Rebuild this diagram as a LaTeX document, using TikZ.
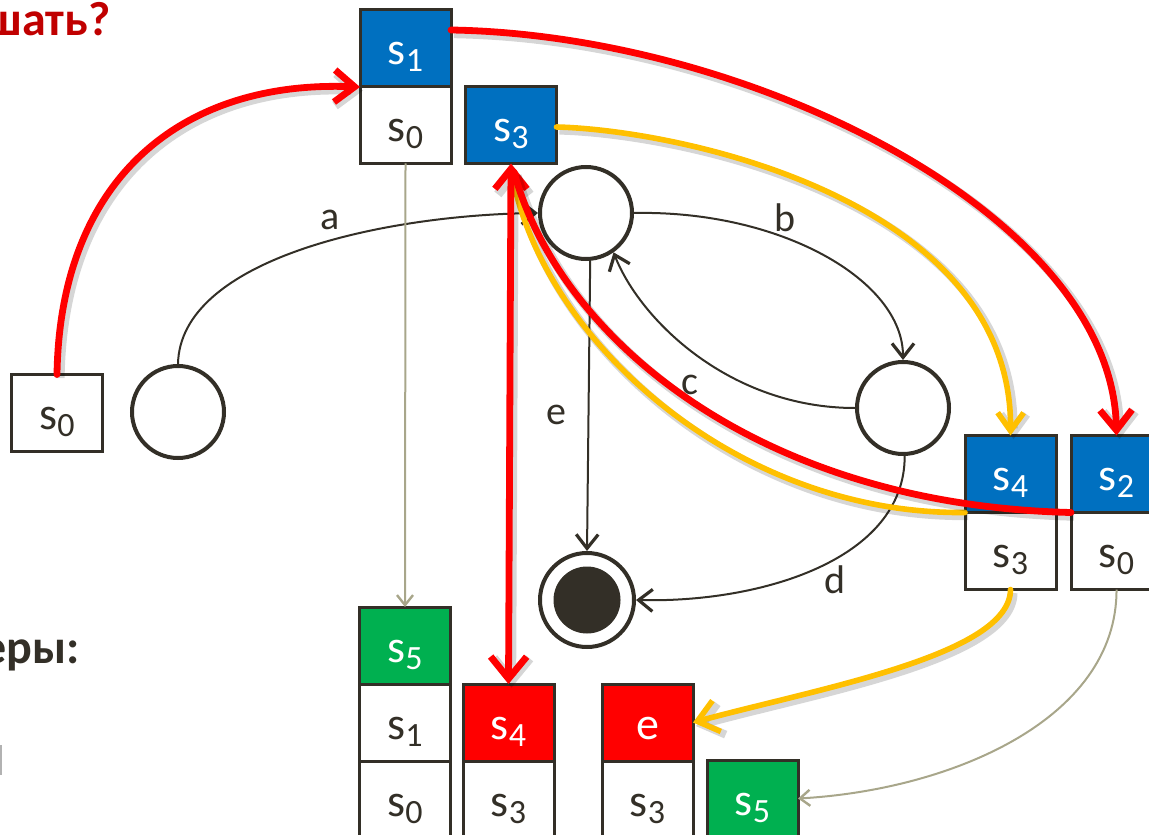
\documentclass[tikz,border=0pt]{standalone}
\usepackage{fontspec}
\setmainfont{Carlito}
\usetikzlibrary{arrows.meta}
\definecolor{ink}{HTML}{332F27}
\definecolor{cblue}{HTML}{0070C0}
\definecolor{cred}{HTML}{FF0000}
\definecolor{cgreen}{HTML}{00B050}
\definecolor{cyellow}{HTML}{FFC000}
\definecolor{olivegray}{HTML}{A8A68A}
\definecolor{titlered}{HTML}{C00000}
\newcommand\stidx[1]{\raisebox{-3.5pt}{\fontsize{17}{17}\selectfont #1}}
\begin{document}
\begin{tikzpicture}[x=0.5pt,y=-0.5pt,
  cell/.style={draw=ink, line width=1.5pt, minimum width=45.5pt, minimum height=38.5pt,
    inner sep=0pt, outer sep=0pt, text height=27.5pt, text depth=11pt,
    font=\fontsize{23}{24}\selectfont, text=ink, fill=white},
  bluecell/.style={cell, fill=cblue, text=white},
  redcell/.style={cell, fill=cred, text=white},
  greencell/.style={cell, fill=cgreen, text=white},
  state/.style={circle, draw=ink, line width=2pt, minimum size=46pt, inner sep=0pt},
  edge/.style={draw=ink, line width=1pt, -{Straight Barb[length=7pt,width=11pt,line width=1.6pt]}},
  elabel/.style={font=\fontsize{20}{22}\selectfont, text=ink},
  softshadow/.style={preaction={draw=black, opacity=0.16, line width=#1,
    transform canvas={shift={(1.5pt,-1.8pt)}}}},
  redarrow/.style={softshadow=4.6pt, draw=cred, line width=3.4pt, line cap=round},
  yellowarrow/.style={softshadow=4pt, draw=cyellow, line width=2.8pt, line cap=round},
  olivearrow/.style={draw=olivegray, line width=1pt, -{Straight Barb[length=5pt,width=8pt,line width=1.2pt]}},
  bigtip/.style={-{Straight Barb[length=10pt,width=16pt]}}
]
\useasboundingbox (0,0) rectangle (1149,834);
\clip (0,0) rectangle (1149,834);

% headings cut at the left edge
\node[anchor=base east, font=\fontsize{24}{26}\selectfont\bfseries, text=titlered, inner sep=0pt] (ttl) at (111,36) {шать?};
\node[anchor=base east, font=\fontsize{24}{26}\selectfont\bfseries, text=ink, inner sep=0pt] (ex) at (80,663) {еры:};
\fill[gray!60] (0,745) rectangle (2,775);

% automaton states
\node[state] (q0) at (178,412) {};
\node[state] (q1) at (586,213) {};
\node[state] (q2) at (903,408) {};
\node[circle, draw=ink, line width=2pt, minimum size=47pt, inner sep=0pt] (qf) at (587,600) {};
\node[circle, draw=ink, line width=1.5pt, fill=ink, minimum size=32pt, inner sep=0pt] (qfin) at (587,600) {};

% transitions
\draw[edge] (q0.north) .. controls (180,260) and (380,215) .. (q1.west);
\draw[edge] (q1.east) .. controls (780,210) and (903,280) .. (q2.north);
\draw[edge] (q2.west) .. controls (730,408) and (640,320) .. (q1.-55);
\draw[edge] (q1.-85) -- (qf.north);
\draw[edge] (q2.-88) .. controls (905,560) and (760,603) .. (qf.east);
\node[elabel] (la) at (330,220) {a};
\node[elabel] (lb) at (785,218) {b};
\node[elabel] (lc) at (690,385) {c};
\node[elabel] (le) at (556,415) {e};
\node[elabel] (ld) at (835,580) {d};

% stack snapshots
\node[cell] (p0) at (57,413) {s\stidx{0}};

\node[bluecell] (a1) at (405.5,48.5) {s\stidx{1}};
\node[cell] (a0) at (405.5,125) {s\stidx{0}};

\node[bluecell] (b3) at (511,125) {s\stidx{3}};

\node[bluecell] (c4) at (1010.5,474) {s\stidx{4}};
\node[cell] (c3) at (1010.5,551) {s\stidx{3}};

\node[bluecell] (d2) at (1116.5,474) {s\stidx{2}};
\node[cell] (d0) at (1116.5,551) {s\stidx{0}};

\node[greencell] (f5) at (405,645.5) {s\stidx{5}};
\node[cell] (f1) at (405,722.5) {s\stidx{1}};
\node[cell] (f0) at (405,799.5) {s\stidx{0}};

\node[redcell] (g4) at (508.5,722.5) {s\stidx{4}};
\node[cell] (g3) at (508.5,799.5) {s\stidx{3}};

\node[redcell] (he) at (647.5,722.5) {e};
\node[cell] (h3) at (647.5,799.5) {s\stidx{3}};

\node[greencell] (k5) at (752.5,798.5) {s\stidx{5}};

% thin links between snapshots
\draw[olivearrow] (a0.south) -- (f5.north);
\draw[olivearrow] (d0.south) .. controls (1117,720) and (950,790) .. (k5.east);

% yellow moves
\draw[yellowarrow, -{Straight Barb[length=9pt,width=13pt]}] (b3.east |- 0,127) .. controls (680,130) and (1012,200) .. (c4.north);
\draw[yellowarrow] (c4.south west) .. controls (740,515) and (545,345) .. (512,175);
\draw[yellowarrow, bigtip] (c3.south) .. controls (1010,655) and (820,688) .. (he.east);

% red moves
\draw[redarrow, bigtip] (p0.north) .. controls (60,180) and (180,80) .. (a1.south west);
\draw[redarrow, bigtip] (a1.east |- 0,30) .. controls (750,35) and (1112,215) .. (d2.north);
\draw[redarrow, {Straight Barb[length=10pt,width=16pt]}-{Straight Barb[length=11pt,width=18pt]}] (b3.south) -- (g4.north);
\draw[redarrow] (d2.south west) .. controls (760,505) and (560,340) .. (514,172);

\end{tikzpicture}
\end{document}
